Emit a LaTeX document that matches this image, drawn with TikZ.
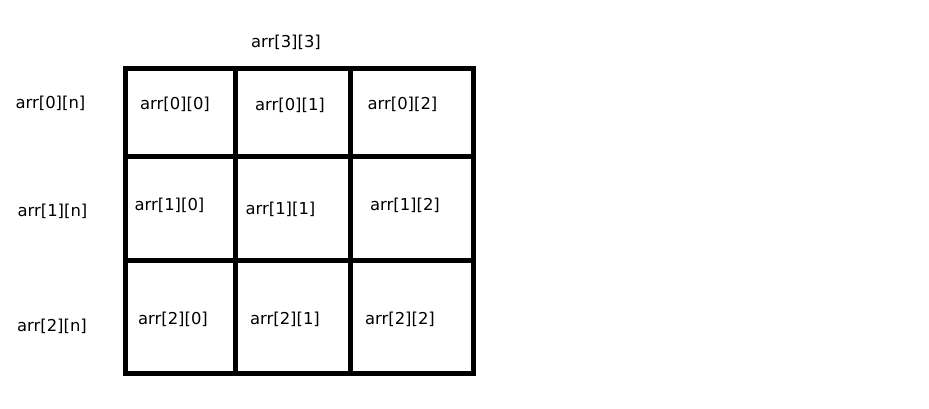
\documentclass[tikz,border=0pt]{standalone}
\usepackage{fontspec}
\setmainfont{DejaVu Sans}
\tikzset{every picture/.style={line width=0.75pt}}
\begin{document}
\begin{tikzpicture}[x=0.75pt,y=0.75pt,yscale=-1,xscale=1]
\useasboundingbox (0,0) rectangle (929,408);
\fontsize{12.3}{15}\selectfont

%Shape: Rectangle [id:dp4150] 
\draw  [line width=3.75]  (125.5,68) -- (473.3,68) -- (473.3,373.2) -- (125.5,373.2) -- cycle ;
%Straight Lines [id:da2231] 
\draw [line width=3.75]    (235.5,68) -- (235.5,373.2) ;
%Straight Lines [id:da2232] 
\draw [line width=3.75]    (350.5,68) -- (350.5,373.2) ;
%Straight Lines [id:da2233] 
\draw [line width=3.75]    (125.5,156.5) -- (473.3,156.5) ;
%Straight Lines [id:da2234] 
\draw [line width=3.75]    (125.5,260.5) -- (473.3,260.5) ;

% Text Node
\draw (286,42) node [inner sep=0.75pt]  (arr33)  {arr[3][3]};
% Text Node
\draw (50.5,103) node [inner sep=0.75pt]  (row0)  {arr[0][n]};
% Text Node
\draw (52.5,211.5) node [inner sep=0.75pt]  (row1)  {arr[1][n]};
% Text Node
\draw (52,326) node [inner sep=0.75pt]  (row2)  {arr[2][n]};
% Text Node
\draw (175,104) node [inner sep=0.75pt]  (c00)  {arr[0][0]};
% Text Node
\draw (290,105.5) node [inner sep=0.75pt]  (c01)  {arr[0][1]};
% Text Node
\draw (402.5,104) node [inner sep=0.75pt]  (c02)  {arr[0][2]};
% Text Node
\draw (169.5,205.5) node [inner sep=0.75pt]  (c10)  {arr[1][0]};
% Text Node
\draw (280.5,209) node [inner sep=0.75pt]  (c11)  {arr[1][1]};
% Text Node
\draw (405,205.5) node [inner sep=0.75pt]  (c12)  {arr[1][2]};
% Text Node
\draw (173,319) node [inner sep=0.75pt]  (c20)  {arr[2][0]};
% Text Node
\draw (285,319) node [inner sep=0.75pt]  (c21)  {arr[2][1]};
% Text Node
\draw (400,319) node [inner sep=0.75pt]  (c22)  {arr[2][2]};

\end{tikzpicture}
\end{document}
